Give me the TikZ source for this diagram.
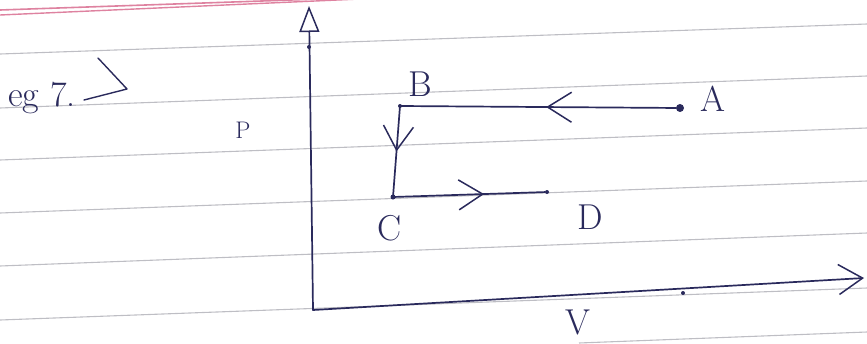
\documentclass[tikz,border=0pt]{standalone}
\usetikzlibrary{arrows.meta,decorations.markings}
\definecolor{ink}{RGB}{42,42,92}
\definecolor{rulecol}{RGB}{190,190,196}
\definecolor{margincol}{RGB}{222,130,160}
\begin{document}
\begin{tikzpicture}[x=1pt,y=-1pt,
  hand/.style={ink, line width=1.7pt, line cap=round, line join=round},
  flow/.style={hand, postaction={decorate},
    decoration={markings, mark=at position #1 with {\arrow{Straight Barb[length=24pt,width=30pt,line width=1.5pt]}}}},
  lbl/.style={ink, font=\fontsize{36}{38}\selectfont, inner sep=0pt},
  smalllbl/.style={ink, font=\fontsize{24}{26}\selectfont, inner sep=0pt},
  ruled/.style={rulecol, line width=1.1pt},
  dotmark/.style={ink, fill=ink, inner sep=0pt, minimum size=#1, circle}
]
\useasboundingbox (0,0) rectangle (867,343);
\clip (0,0) rectangle (867,343);
% lined paper
\foreach \l/\r in {54/24, 108/76, 160/128, 213/181, 266/233, 320/288}
  \draw[ruled] (0,\l) -- (867,\r);
\draw[ruled] (579,343) -- (867,332);
\draw[margincol, line width=1.6pt] (0,10) -- (320,-1);
\draw[margincol, line width=1.4pt] (0,15) -- (360,-1);
% heading
\node[lbl, anchor=west] (eg) at (8,98) {eg 7.};
\coordinate (egs) at (84,100);
\coordinate (ege) at (127,89);
\coordinate (egh) at (98,58);
\draw[hand, line width=1.4pt] (egs) -- (ege) -- (egh);
% axes
\coordinate (O) at (313,310);
\coordinate (Ytop) at (309,6);
\coordinate (Xend) at (864,278);
\draw[hand, -{Triangle[open,length=26pt,width=20pt,line width=1.5pt]}] (O) -- (Ytop);
\draw[hand, -{Straight Barb[length=24pt,width=30pt,line width=1.5pt]}] (O) -- (Xend);
\node[dotmark=4pt] (ydot) at (309,47) {};
\node[dotmark=4pt] (xdot) at (683,293) {};
\node[smalllbl] (P) at (243,130) {P};
\node[lbl] (V) at (578,322) {V};
% process
\node[dotmark=8pt] (A) at (680,108) {};
\coordinate (B) at (400,106);
\coordinate (C) at (393,197);
\node[dotmark=4pt] (D) at (547,192) {};
\node[dotmark=4pt] at (B) {};
\node[dotmark=5pt] at (C) {};
\draw[flow=0.47] (A) -- (B);
\draw[flow=0.5] (B) -- (C);
\draw[flow=0.6] (C) -- (D);
\node[lbl] (Bl) at (420,84) {B};
\node[lbl] (Al) at (713,99) {A};
\node[lbl] (Cl) at (390,228) {C};
\node[lbl] (Dl) at (590,217) {D};
\end{tikzpicture}
\end{document}
